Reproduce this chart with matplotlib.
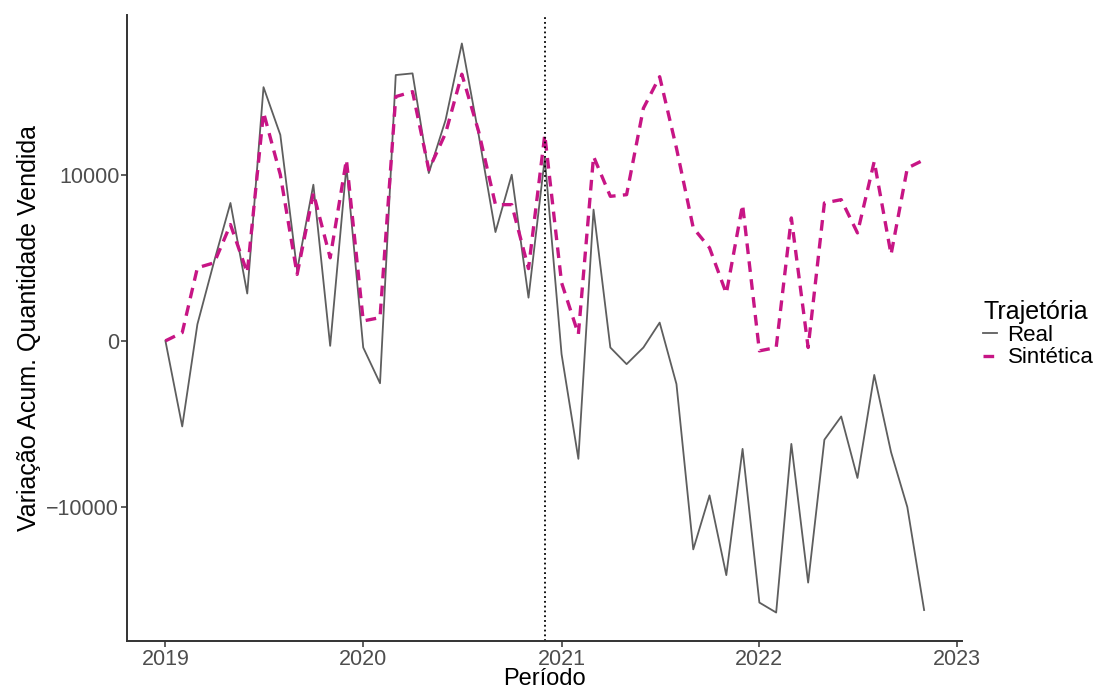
import pandas as pd
import matplotlib.pyplot as plt
import matplotlib.dates as mdates

plt.rcParams['font.family'] = ['Liberation Sans', 'DejaVu Sans']

# monthly periods, Jan 2019 - Nov 2022
periodo = pd.date_range('2019-01-01', periods=47, freq='MS')
intervencao = pd.Timestamp('2020-12-01')

real = [0, -5150, 1000, 4800, 8300, 2850, 15270, 12400, 4240, 9400, -300, 10500,
        -400, -2550, 16000, 16100, 10100, 13300, 17900, 12400, 6550, 10000, 2600, 11000,
        -800, -7100, 7900, -400, -1400, -400, 1100, -2600, -12550, -9300, -14100, -6500,
        -15750, -16350, -6200, -14550, -5950, -4550, -8250, -2050, -6700, -10000, -16200]

sintetica = [0, 500, 4400, 4700, 7000, 4100, 13750, 10000, 4000, 8900, 5000, 10900,
             1200, 1400, 14700, 15000, 10300, 12500, 16050, 12600, 8200, 8200, 4350, 12400,
             3500, 400, 11100, 8700, 8800, 14000, 15900, 11600, 6800, 5600, 2850, 8200,
             -600, -400, 7400, -400, 8300, 8500, 6500, 10800, 5200, 10400, 10900]

fig = plt.figure(figsize=(11.02, 6.89), dpi=100)
ax = fig.add_axes([0.1152, 0.0697, 0.7578, 0.9085])

ax.plot(periodo, real, color='#5E5E5E', lw=1.3, label='Real')
ax.plot(periodo, sintetica, color='#C71585', lw=2.4, ls=(0, (3.2, 2.2)), label='Sintética')
ax.axvline(intervencao, color='black', lw=1.3, ls=':')

ax.margins(x=0.05, y=0.05)
ax.set_yticks([-10000, 0, 10000])
ax.xaxis.set_major_locator(mdates.YearLocator())
ax.xaxis.set_major_formatter(mdates.DateFormatter('%Y'))
ax.set_xlim(pd.Timestamp('2018-10-22'), pd.Timestamp('2023-01-10'))

for s in ['top', 'right']:
    ax.spines[s].set_visible(False)
for s in ['left', 'bottom']:
    ax.spines[s].set_linewidth(1.4)
    ax.spines[s].set_color('#333333')
ax.tick_params(axis='both', labelsize=15.5, labelcolor='#4D4D4D', color='#333333',
               length=4, width=1.1, pad=1.5)

ax.set_xlabel('Período', fontsize=17, labelpad=-1)
ax.set_ylabel('Variação Acum. Quantidade Vendida', fontsize=18, labelpad=4)

leg = ax.legend(title='Trajetória', loc='center left', bbox_to_anchor=(1.012, 0.49),
                frameon=False, fontsize=16, title_fontsize=18, handlelength=0.6,
                handletextpad=0.5, labelspacing=0.05, borderpad=0)
leg._legend_box.align = 'left'

fig.savefig('out.png', dpi=100)
